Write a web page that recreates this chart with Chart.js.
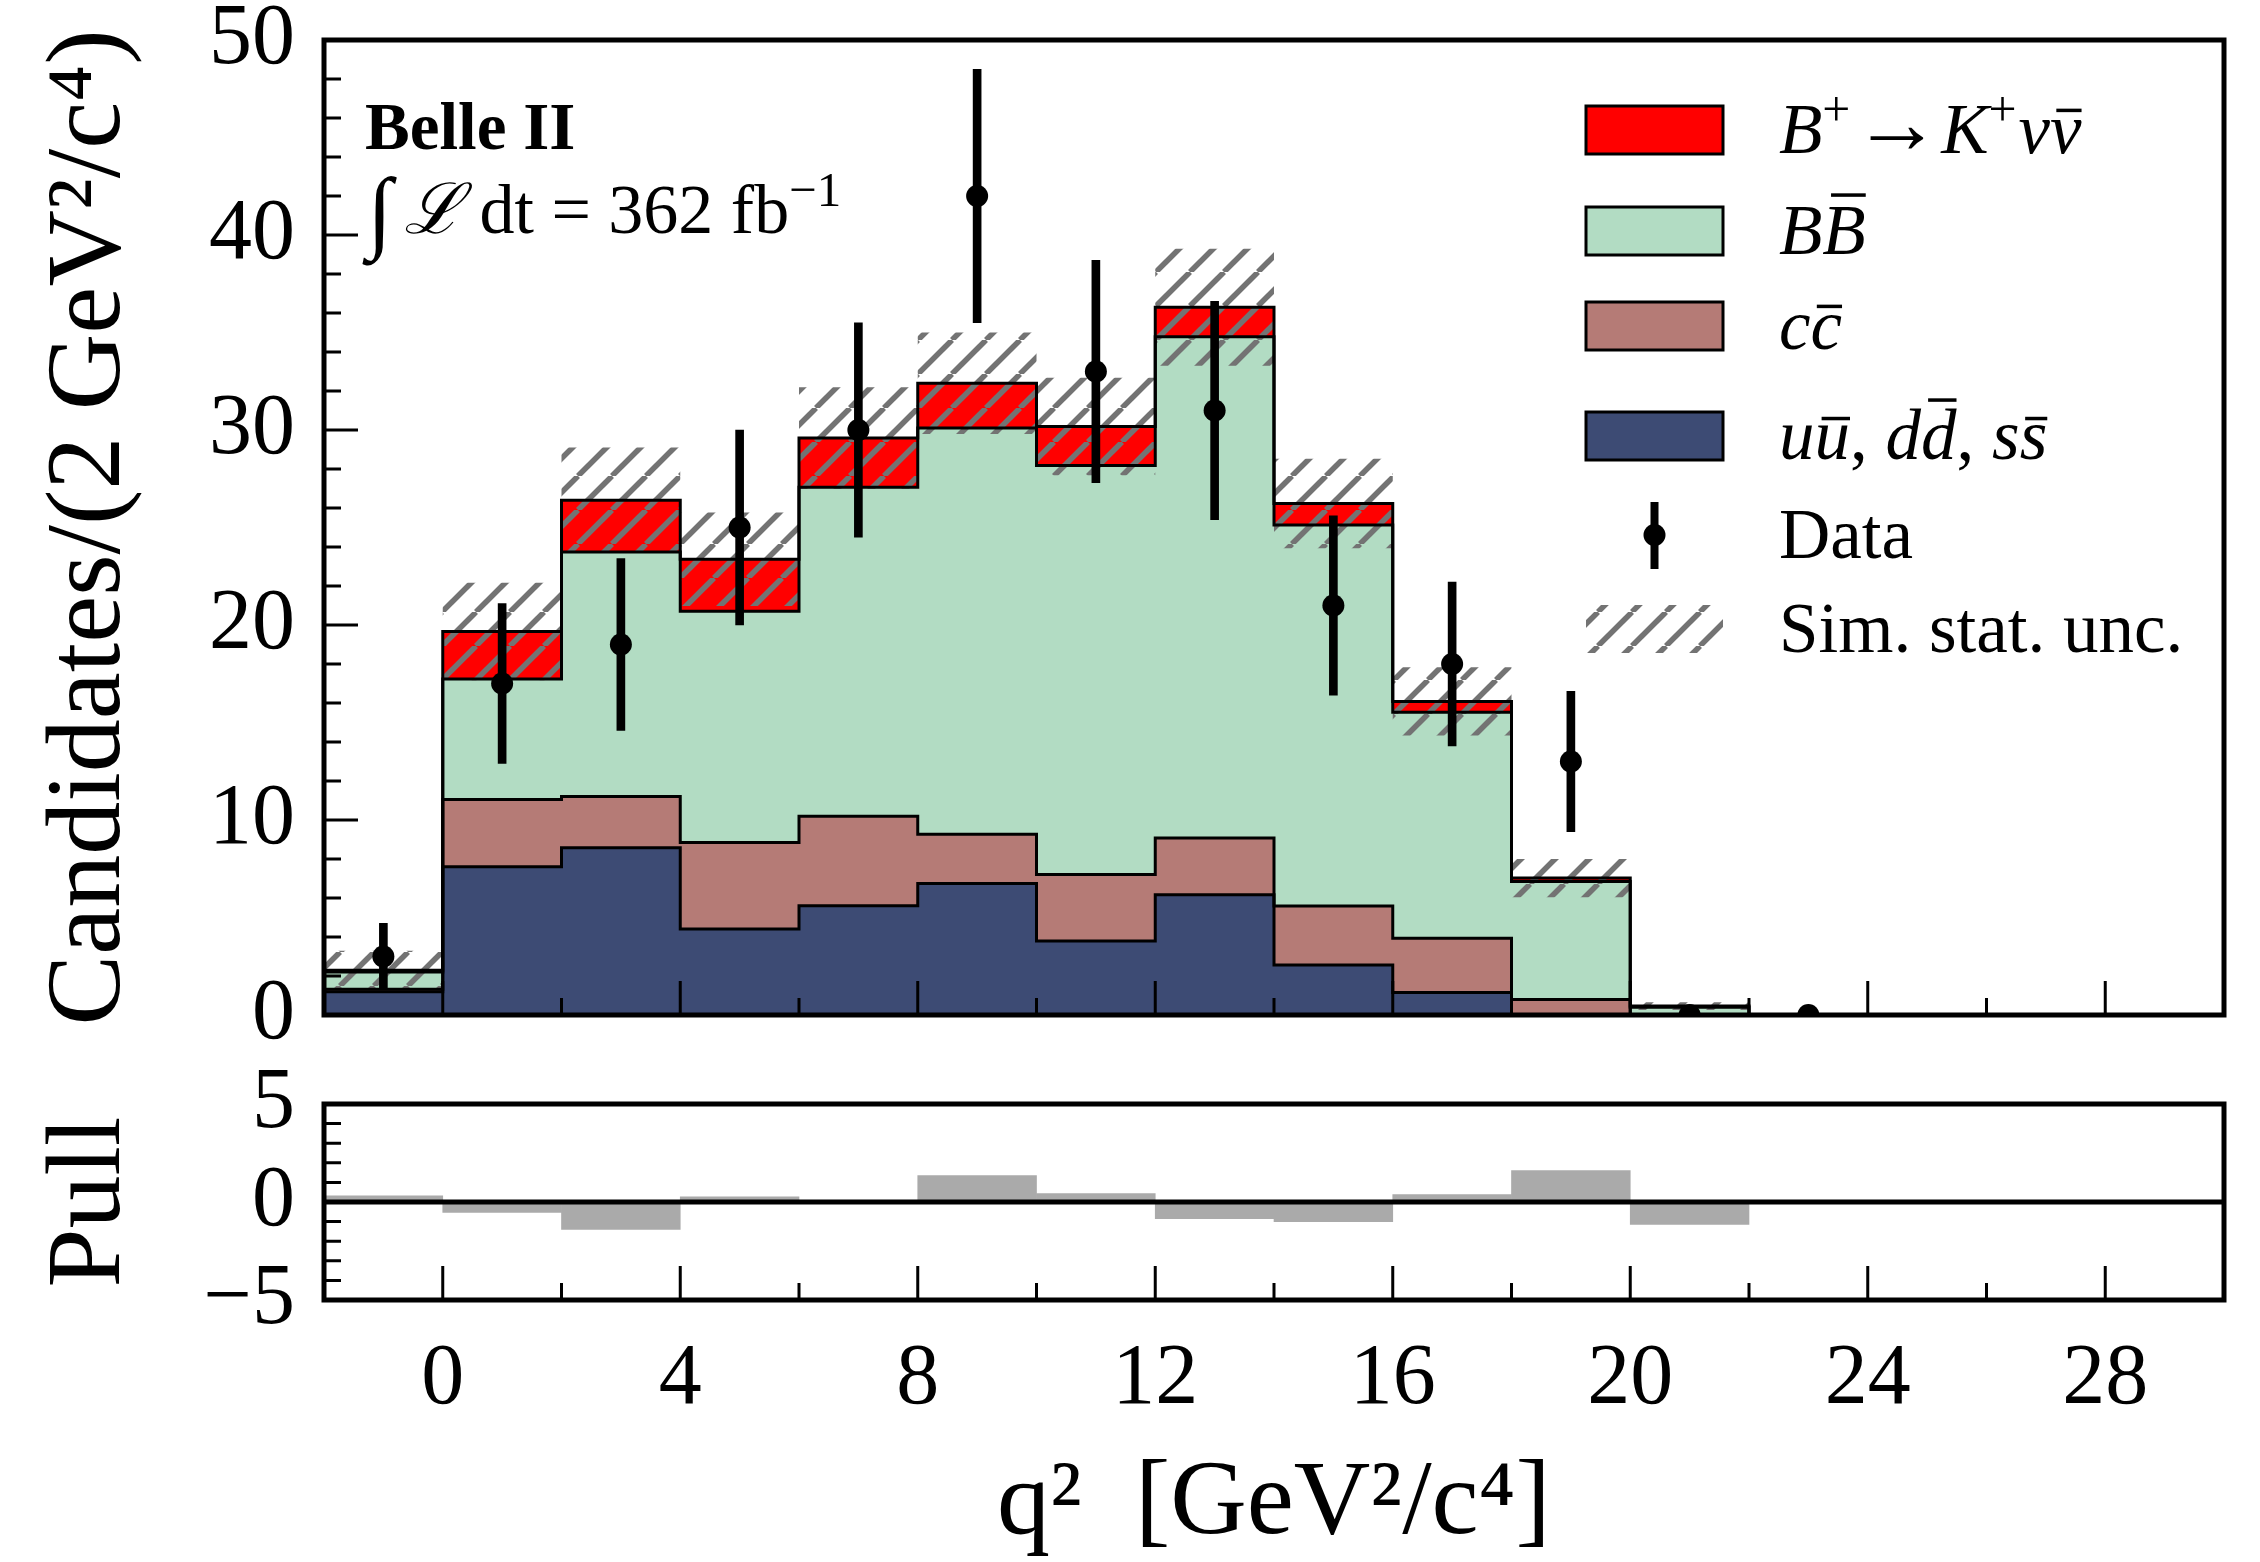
<!DOCTYPE html>
<html>
<head>
<meta charset="utf-8">
<script src="https://cdn.jsdelivr.net/npm/chart.js@4.4.1/dist/chart.umd.min.js"></script>
<style>
  html, body { margin: 0; padding: 0; background: #fff; }
  #wrap { position: relative; width: 2260px; height: 1562px; }
  canvas { position: absolute; left: 0; }
  #main { top: 0; }
  #pull { top: 1060px; }
</style>
</head>
<body>
<div id="wrap">
  <canvas id="main" width="2260" height="1060"></canvas>
  <canvas id="pull" width="2260" height="502"></canvas>
</div>
<script>
(function () {
  // q^2 bins (2 GeV^2/c^4 wide) and the stacked simulation per bin
  const BIN_EDGES = [-2, 0, 2, 4, 6, 8, 10, 12, 14, 16, 18, 20, 22];
  const UDS    = [1.19, 7.6, 8.58, 4.41, 5.6, 6.74, 3.79, 6.17, 2.56, 1.16, 0.0, 0.0];
  const CCBAR  = [0.13, 3.45, 2.62, 4.43, 4.59, 2.53, 3.41, 2.91, 3.03, 2.77, 0.8, 0.0];
  const BBBAR  = [0.88, 6.18, 12.54, 11.86, 16.88, 20.83, 20.98, 25.7, 19.54, 11.6, 6.04, 0.4];
  const SIGNAL = [0.1, 2.44, 2.66, 2.67, 2.52, 2.3, 2.0, 1.52, 1.1, 0.55, 0.18, 0.06];
  const SIM_UNC = [1.0, 2.5, 2.7, 2.4, 2.6, 2.6, 2.5, 3.0, 2.3, 1.75, 0.98, 0.2];

  // data points
  const DATA_X   = [-1, 1, 3, 5, 7, 9, 11, 13, 15, 17, 19, 21, 23];
  const DATA_Y   = [3, 17, 19, 25, 30, 42, 33, 31, 21, 18, 13, 0, 0];
  const DATA_ERR = [1.7, 4.1, 4.4, 5.0, 5.5, 6.5, 5.7, 5.6, 4.6, 4.2, 3.6, 0, 0];

  // pull per bin (bin centres)
  const PULL_X = [-1, 1, 3, 5, 7, 9, 11, 13, 15, 17, 19, 21];
  const PULL   = [0.32, -0.53, -1.40, 0.27, 0.07, 1.35, 0.43, -0.85, -1.0, 0.38, 1.6, -1.14];

  // ticks
  const X_TICKS = [0, 4, 8, 12, 16, 20, 24, 28];
  const X_MINOR = [2, 6, 10, 14, 18, 22, 26];
  const Y_TICKS = [0, 10, 20, 30, 40, 50];
  const Y_MINOR = [2, 4, 6, 8, 12, 14, 16, 18, 22, 24, 26, 28, 32, 34, 36, 38, 42, 44, 46, 48];
  const PULL_TICKS = [-5, 0, 5];
  const PULL_MINOR = [-4, -3, -2, -1, 1, 2, 3, 4];

  const SERIF = "'Liberation Serif', 'DejaVu Serif', serif";
  const C_SIG = '#ff0000', C_BB = '#b2dcc3', C_CC = '#b57b76', C_UDS = '#3d4b74';
  const C_HATCH = '#737373', C_PULL = '#aaaaaa';

  Chart.defaults.font.family = SERIF;
  Chart.defaults.color = '#000';

  function hatchPattern(ctx) {
    const s = 34;
    const c = document.createElement('canvas');
    c.width = s; c.height = s;
    const g = c.getContext('2d');
    g.strokeStyle = C_HATCH;
    g.lineWidth = 5.5;
    for (const k of [-1, 0, 1]) {
      g.beginPath();
      g.moveTo(k * s, s);
      g.lineTo(k * s + s, 0);
      g.stroke();
    }
    return ctx.createPattern(c, 'repeat');
  }

  function stack(layers) {
    let run = layers[0].map(() => 0);
    return layers.map(l => (run = run.map((v, i) => v + l[i])));
  }

  function stairs(levels, drop) {
    const last = BIN_EDGES[BIN_EDGES.length - 1];
    const pts = levels.map((y, i) => ({x: BIN_EDGES[i], y}));
    pts.push({x: last, y: levels[levels.length - 1]});
    if (drop) pts.push({x: last, y: 0});
    return pts;
  }

  const [cumUds, cumCc, cumBb, cumSig] = stack([UDS, CCBAR, BBBAR, SIGNAL]);
  const uncLo = cumSig.map((v, i) => v - SIM_UNC[i]);
  const uncHi = cumSig.map((v, i) => v + SIM_UNC[i]);

  // inside ticks + box frame
  const frame = {
    id: 'frame',
    afterDatasetsDraw(chart, args, o) {
      const {ctx, chartArea: a, scales: {x, y}} = chart;
      ctx.save();
      ctx.strokeStyle = '#000';
      ctx.lineWidth = 3;
      ctx.beginPath();
      const tx = (vals, len) => vals.forEach(v => {
        const p = x.getPixelForValue(v);
        ctx.moveTo(p, a.bottom); ctx.lineTo(p, a.bottom - len);
      });
      const ty = (vals, len) => vals.forEach(v => {
        const p = y.getPixelForValue(v);
        ctx.moveTo(a.left, p); ctx.lineTo(a.left + len, p);
      });
      tx(X_TICKS, 34); tx(X_MINOR, 17);
      ty(o.yMajor, 34); ty(o.yMinor, 17);
      ctx.stroke();
      if (o.zero) {
        ctx.lineWidth = 5;
        ctx.beginPath();
        const p = y.getPixelForValue(0);
        ctx.moveTo(a.left, p); ctx.lineTo(a.right, p);
        ctx.stroke();
      }
      ctx.lineWidth = 5;
      ctx.strokeRect(a.left, a.top, a.right - a.left, a.bottom - a.top);
      ctx.restore();
    }
  };

  function drawRuns(ctx, x, base, size, runs) {
    for (const r of runs) {
      const fs = size * (r.sup ? 0.7 : (r.scale || 1));
      const yy = base - (r.sup ? size * 0.38 : 0) + (r.dy || 0);
      ctx.font = (r.b ? 'bold ' : '') + (r.i ? 'italic ' : '') + fs + 'px ' + SERIF;
      ctx.fillText(r.t, x, yy);
      const w = ctx.measureText(r.t).width;
      if (r.bar) ctx.fillRect(x + w * 0.2, base - r.bar * size - 1.75, w * 0.8, 3.5);
      x += w + (r.gap || 0);
    }
  }

  // legend and labels drawn inside the main axes
  const notes = {
    id: 'notes',
    afterDraw(chart) {
      const ctx = chart.ctx;
      ctx.save();
      ctx.fillStyle = '#000';
      ctx.textBaseline = 'alphabetic';
      ctx.textAlign = 'left';
      drawRuns(ctx, 365, 149, 67, [{t: 'Belle II', b: 1}]);
      drawRuns(ctx, 367, 233, 70, [
        {t: '∫', scale: 1.3, dy: 8, gap: 12}, {t: 'ℒ', i: 1}, {t: ' dt = 362 fb'}, {t: '−1', sup: 1}
      ]);

      const rows = [
        {cy: 130, kind: 'box', color: C_SIG, runs: [{t: 'B', i: 1}, {t: '+', sup: 1, gap: 2}, {t: '→', scale: 1.25}, {t: 'K', i: 1}, {t: '+', sup: 1, gap: 2}, {t: 'ν', i: 1}, {t: 'ν', i: 1, bar: 0.6}]},
        {cy: 231, kind: 'box', color: C_BB, runs: [{t: 'B', i: 1}, {t: 'B', i: 1, bar: 0.83}]},
        {cy: 326, kind: 'box', color: C_CC, runs: [{t: 'c', i: 1}, {t: 'c', i: 1, bar: 0.6}]},
        {cy: 436, kind: 'box', color: C_UDS, runs: [{t: 'u', i: 1}, {t: 'u', i: 1, bar: 0.57}, {t: ', '}, {t: 'd', i: 1}, {t: 'd', i: 1, bar: 0.83}, {t: ', '}, {t: 's', i: 1}, {t: 's', i: 1, bar: 0.57}]},
        {cy: 535, kind: 'data', runs: [{t: 'Data'}]},
        {cy: 629, kind: 'hatch', runs: [{t: 'Sim. stat. unc.'}]}
      ];
      const bx = 1586, bw = 137, bh = 48;
      rows.forEach(r => {
        if (r.kind === 'box') {
          ctx.fillStyle = r.color;
          ctx.fillRect(bx, r.cy - bh / 2, bw, bh);
          ctx.strokeStyle = '#000';
          ctx.lineWidth = 3;
          ctx.strokeRect(bx, r.cy - bh / 2, bw, bh);
        } else if (r.kind === 'hatch') {
          ctx.fillStyle = hatch;
          ctx.fillRect(bx, r.cy - bh / 2, bw, bh);
        } else {
          ctx.fillStyle = '#000';
          ctx.fillRect(bx + bw / 2 - 4, r.cy - 33, 8, 67);
          ctx.beginPath();
          ctx.arc(bx + bw / 2, r.cy, 11, 0, Math.PI * 2);
          ctx.fill();
        }
        ctx.fillStyle = '#000';
        drawRuns(ctx, 1779, r.cy + 23, 71, r.runs);
      });
      ctx.restore();
    }
  };

  const mainCtx = document.getElementById('main').getContext('2d');
  const hatch = hatchPattern(mainCtx);

  const stepDs = (label, levels, color, fill, order) => ({
    type: 'line', label, data: stairs(levels, true), stepped: true, fill,
    backgroundColor: color, borderColor: '#000', borderWidth: 3,
    pointRadius: 0, pointHoverRadius: 0, order
  });

  new Chart(mainCtx, {
    type: 'line',
    data: {
      datasets: [
        stepDs('uu, dd, ss', cumUds, C_UDS, 'origin', 6),
        stepDs('cc', cumCc, C_CC, '-1', 5),
        stepDs('BB', cumBb, C_BB, '-1', 4),
        stepDs('B+ -> K+ nu nu', cumSig, C_SIG, '-1', 3),
        {type: 'line', label: 'unc lo', data: stairs(uncLo, false), stepped: true, fill: false,
         borderWidth: 0, borderColor: 'rgba(0,0,0,0)', pointRadius: 0, order: 2},
        {type: 'line', label: 'Sim. stat. unc.', data: stairs(uncHi, false), stepped: true, fill: {target: 4},
         backgroundColor: hatch, borderWidth: 0, borderColor: 'rgba(0,0,0,0)', pointRadius: 0, order: 2},
        {type: 'bar', label: 'Data err', data: DATA_X.map((x, i) => ({x, y: [DATA_Y[i] - DATA_ERR[i], DATA_Y[i] + DATA_ERR[i]]})),
         backgroundColor: '#000', borderWidth: 0, barThickness: 8, order: 1},
        {type: 'line', label: 'Data', data: DATA_X.map((x, i) => ({x, y: DATA_Y[i]})), showLine: false,
         pointRadius: 11, pointHoverRadius: 11, pointBackgroundColor: '#000', pointBorderWidth: 0, clip: 0, order: 0}
      ]
    },
    options: {
      responsive: false, animation: false, events: [],
      layout: {padding: {top: 40, right: 36, left: 0, bottom: 0}},
      plugins: {
        legend: {display: false}, tooltip: {enabled: false},
        filler: {propagate: false, drawTime: 'beforeDatasetsDraw'},
        frame: {yMajor: Y_TICKS, yMinor: Y_MINOR}
      },
      scales: {
        x: {
          type: 'linear', min: -2, max: 30, offset: false,
          grid: {display: false, drawTicks: false}, border: {display: false},
          ticks: {display: false},
          afterFit: s => { s.height = 45; s.paddingLeft = 0; s.paddingRight = 0; }
        },
        y: {
          type: 'linear', min: 0, max: 50,
          grid: {display: false, drawTicks: false}, border: {display: false},
          afterBuildTicks: s => { s.ticks = Y_TICKS.map(v => ({value: v})); },
          ticks: {font: {size: 86}, padding: 29, autoSkip: false},
          title: {display: true, text: 'Candidates/(2 GeV²/c⁴)', font: {size: 106, lineHeight: 1}, padding: {top: 38, bottom: 0}},
          afterFit: s => { s.width = 324; s.paddingTop = 0; s.paddingBottom = 0; }
        }
      }
    },
    plugins: [frame, notes]
  });

  new Chart(document.getElementById('pull').getContext('2d'), {
    type: 'bar',
    data: {
      datasets: [{
        label: 'Pull', data: PULL_X.map((x, i) => ({x, y: PULL[i]})),
        backgroundColor: C_PULL, borderWidth: 0, barPercentage: 1, categoryPercentage: 1
      }]
    },
    options: {
      responsive: false, animation: false, events: [],
      layout: {padding: {top: 44, right: 36, left: 0, bottom: 0}},
      plugins: {
        legend: {display: false}, tooltip: {enabled: false},
        frame: {yMajor: PULL_TICKS, yMinor: PULL_MINOR, zero: true}
      },
      scales: {
        x: {
          type: 'linear', min: -2, max: 30, offset: false,
          grid: {display: false, drawTicks: false, offset: false}, border: {display: false},
          afterBuildTicks: s => { s.ticks = X_TICKS.map(v => ({value: v})); },
          ticks: {font: {size: 86}, padding: 29, maxRotation: 0, autoSkip: false},
          title: {display: true, text: 'q²  [GeV²/c⁴]', font: {size: 106, lineHeight: 1}, padding: {top: 0, bottom: 4}},
          afterFit: s => { s.height = 262; s.paddingLeft = 0; s.paddingRight = 0; }
        },
        y: {
          type: 'linear', min: -5, max: 5,
          grid: {display: false, drawTicks: false}, border: {display: false},
          afterBuildTicks: s => { s.ticks = PULL_TICKS.map(v => ({value: v})); },
          ticks: {font: {size: 86}, padding: 29, autoSkip: false, callback: v => (v < 0 ? '−' + Math.abs(v) : String(v))},
          title: {display: true, text: 'Pull', font: {size: 106, lineHeight: 1}, padding: {top: 38, bottom: 0}},
          afterFit: s => { s.width = 324; s.paddingTop = 0; s.paddingBottom = 0; }
        }
      }
    },
    plugins: [frame]
  });
})();
</script>
</body>
</html>
